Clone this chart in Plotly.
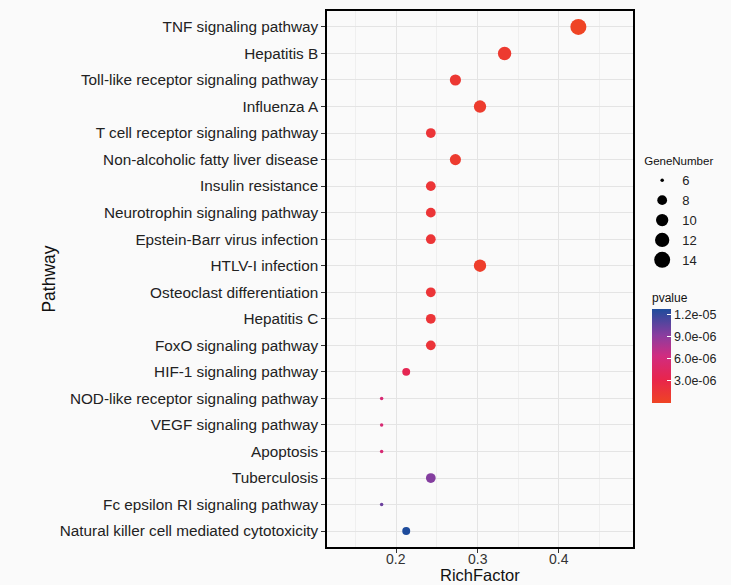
import plotly.graph_objects as go
import numpy as np

pathways = [
    "TNF signaling pathway",
    "Hepatitis B",
    "Toll-like receptor signaling pathway",
    "Influenza A",
    "T cell receptor signaling pathway",
    "Non-alcoholic fatty liver disease",
    "Insulin resistance",
    "Neurotrophin signaling pathway",
    "Epstein-Barr virus infection",
    "HTLV-I infection",
    "Osteoclast differentiation",
    "Hepatitis C",
    "FoxO signaling pathway",
    "HIF-1 signaling pathway",
    "NOD-like receptor signaling pathway",
    "VEGF signaling pathway",
    "Apoptosis",
    "Tuberculosis",
    "Fc epsilon RI signaling pathway",
    "Natural killer cell mediated cytotoxicity",
]
rich_factor = [0.4242, 0.3333, 0.2727, 0.3030, 0.2424, 0.2727, 0.2424, 0.2424, 0.2424, 0.3030,
               0.2424, 0.2424, 0.2424, 0.2121, 0.1818, 0.1818, 0.1818, 0.2424, 0.1818, 0.2121]
gene_number = [14, 11, 9, 10, 8, 9, 8, 8, 8, 10, 8, 8, 8, 7, 6, 6, 6, 8, 6, 7]
pvalue = [1e-9, 1.0e-6, 1.2e-6, 8e-7, 1.6e-6, 9e-7, 1.5e-6, 1.5e-6, 1.5e-6, 6e-7,
          1.6e-6, 1.6e-6, 1.7e-6, 3.6e-6, 5.6e-6, 5.6e-6, 5.6e-6, 9.4e-6, 1.02e-5, 1.28e-5]

x_tick_vals = [0.2, 0.3, 0.4]
x_tick_text = ["0.2", "0.3", "0.4"]
size_legend = [6, 8, 10, 12, 14]
p_ticks = [3e-6, 6e-6, 9e-6, 1.2e-5]
p_ticktext = ["3.0e-06", "6.0e-06", "9.0e-06", "1.2e-05"]

colorscale = [
    [0.0, "#EF4424"],
    [0.25, "#E8254C"],
    [0.5, "#D12C80"],
    [0.72, "#8A3D9F"],
    [1.0, "#1E4C9C"],
]

gmin, gmax = 6, 14


def diam(g):
    g = np.asarray(g, dtype=float)
    return 1 + 2.5 * (1 + 5 * np.sqrt((g - gmin) / (gmax - gmin)))


FONT = "Liberation Sans, Arial, sans-serif"

fig = go.Figure()
fig.add_trace(go.Scatter(
    x=rich_factor, y=pathways, mode="markers", showlegend=False,
    marker=dict(
        size=diam(gene_number), color=pvalue, colorscale=colorscale,
        line=dict(width=0), opacity=1,
        colorbar=dict(
            title=dict(text="pvalue", side="top", font=dict(size=12, color="#111")),
            thickness=19, thicknessmode="pixels",
            len=113, lenmode="pixels",
            x=1.062, xanchor="left", y=0.2687, yanchor="bottom",
            xpad=0, ypad=0, outlinewidth=0,
            tickvals=p_ticks, ticktext=p_ticktext,
            ticks="inside", ticklen=4, tickcolor="white", tickwidth=1,
            tickfont=dict(size=12.5, color="#222"),
        ),
    ),
))

for g, d in zip(size_legend, diam(size_legend)):
    fig.add_trace(go.Scatter(
        x=[None], y=[None], mode="markers", name=str(g), showlegend=True,
        marker=dict(size=float(d), color="black", line=dict(width=0)),
    ))

annotations = [
    dict(text=t, xref="x", yref="paper", x=v, y=-0.0056,
         xanchor="center", yanchor="top", showarrow=False, borderpad=0,
         font=dict(size=14, color="#333"))
    for v, t in zip(x_tick_vals, x_tick_text)
]
annotations.append(dict(
    text="RichFactor", xref="paper", yref="paper", x=0.5, y=-0.0709,
    xanchor="center", yanchor="bottom", showarrow=False, borderpad=0,
    font=dict(size=16.5, color="#111"),
))

fig.update_layout(
    width=731, height=585,
    margin=dict(l=327, r=98, t=11, b=38, autoexpand=False),
    paper_bgcolor="#FAFAFA", plot_bgcolor="#FAFAFA",
    font=dict(family=FONT, color="#222"),
    legend=dict(
        title=dict(text="GeneNumber", font=dict(size=11.5, color="#111")),
        x=1.03, xanchor="left", y=0.740, yanchor="top",
        itemsizing="trace", font=dict(size=13, color="#222"),
        bgcolor="rgba(0,0,0,0)", tracegroupgap=0,
    ),
    xaxis=dict(
        range=[0.1145, 0.4915], tickvals=x_tick_vals, showticklabels=False,
        automargin=False,
        showgrid=True, gridcolor="#E4E4E4", gridwidth=1,
        minor=dict(dtick=0.05, tick0=0, showgrid=True, gridcolor="#EFEFEF", gridwidth=0.6),
        ticks="outside", ticklen=4, tickcolor="#333", tickwidth=1,
        showline=True, linecolor="black", linewidth=1.5, mirror=True,
        zeroline=False,
    ),
    yaxis=dict(
        categoryorder="array", categoryarray=pathways,
        range=[19.6, -0.6], automargin=False,
        showgrid=True, gridcolor="#E4E4E4", gridwidth=1,
        ticks="outside", ticklen=4, tickcolor="#333", tickwidth=1,
        tickfont=dict(size=15.3, color="#222"),
        showline=True, linecolor="black", linewidth=1.5, mirror=True,
        zeroline=False,
        title=dict(text="Pathway", font=dict(size=17.5, color="#111"), standoff=0),
    ),
    annotations=annotations,
)

fig.write_html(
    "out.html",
    config={"displayModeBar": False},
    post_script="document.body.style.margin='0';document.body.style.overflow='hidden';",
)
